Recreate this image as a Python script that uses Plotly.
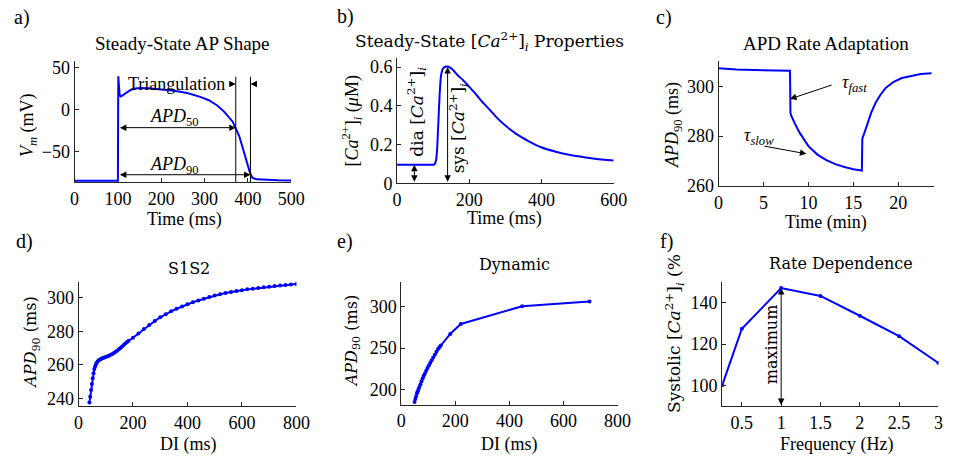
import plotly.graph_objects as go

W, H = 958, 464
BLUE = "#0000ff"
FONT = "Liberation Serif"
WIDE = "DejaVu Serif"
AX = "#262626"

# ---------------- data ----------------
ap_t = [0, 50, 100, 100.5, 101, 102, 104, 106, 110, 120, 130, 140, 150, 170, 200, 230, 260, 290,
        310, 330, 345, 355, 365, 372, 380, 388, 395, 400, 405, 410, 420, 440, 470, 500]
ap_v = [-84.3, -84.3, -84.3, 0, 40, 31, 18, 16, 17, 21, 24, 25.5, 26, 25.6, 24.5, 22.8, 20, 15.5,
        11.5, 5, -2, -8, -14, -22, -31, -45, -56, -66, -75, -80.5, -82.5, -83.2, -83.6, -83.8]

ca_t = [0, 50, 100, 104, 108, 111, 114, 118, 122, 128, 134, 139, 145, 155, 168, 183, 198, 215,
        231, 255, 277, 300, 331, 365, 399, 440, 476, 510, 548, 575, 600]
ca_c = [0.096, 0.096, 0.096, 0.098, 0.12, 0.178, 0.3, 0.46, 0.56, 0.595, 0.602, 0.603, 0.6,
        0.585, 0.558, 0.532, 0.502, 0.467, 0.431, 0.383, 0.338, 0.298, 0.254, 0.217, 0.186,
        0.163, 0.147, 0.137, 0.127, 0.122, 0.118]

ad_t = [0, 1, 2, 4, 6, 7.95, 8.0, 8.05, 8.5, 9, 10, 11, 12, 13, 14, 15, 15.95, 16.0, 16.3, 17,
        17.5, 18, 18.6, 19.5, 20.4, 21.5, 22.5, 23.7]
ad_apd = [307.2, 306.9, 306.7, 306.5, 306.3, 306.2, 289.5, 288.5, 285.0, 281.5, 276, 272.6,
          270.4, 268.8, 267.6, 266.7, 266.2, 279, 282, 289.5, 293.5, 296.5, 299.3, 301.8, 303.3,
          304.3, 304.9, 305.2]

s1s2_di = [40, 43, 46, 49, 52, 55, 58, 61, 64, 67, 70, 74, 78, 82, 86, 90, 95, 100, 106, 112,
           118, 124, 130, 136, 142, 148, 154, 160, 166, 172, 178, 184, 200, 220, 240, 260, 280,
           300, 320, 340, 360, 380, 400, 420, 440, 460, 480, 500, 520, 540, 560, 580, 600, 620,
           640, 660, 680, 700, 720, 740, 760, 780, 800]
s1s2_apd = [237.5, 241, 245, 248.5, 252, 255, 257.5, 259, 260.3, 261.2, 262, 262.7, 263.1,
            263.5, 263.8, 264.1, 264.4, 264.7, 265.1, 265.5, 266, 266.5, 267.1, 267.8, 268.5,
            269.3, 270.1, 271, 271.9, 272.8, 273.6, 274.4, 276.2, 278.8, 281.4, 283.8, 286.2,
            288.4, 290.3, 292, 293.5, 294.9, 296.2, 297.4, 298.5, 299.5, 300.5, 301.4, 302.2,
            302.9, 303.6, 304.1, 304.6, 305.1, 305.5, 305.9, 306.3, 306.7, 307.1, 307.4, 307.7,
            308, 308.3]

dyn_di = [49, 52, 55, 58, 61, 64, 67, 71, 75, 79, 83, 87, 92, 97, 102, 107, 112, 118, 124, 130,
          136, 141, 146, 181, 220, 447, 696]
dyn_apd = [185, 188.5, 192, 195.5, 198, 200.5, 203, 206.5, 210, 213.5, 216.5, 219, 222.5, 226,
           229, 232, 235, 238.5, 242, 245.5, 249, 251, 253, 267, 279, 300.3, 306]

freq = [0.25, 0.5, 1, 1.5, 2, 2.5, 3]
sys_ca = [100, 127.4, 147.1, 143.3, 133.7, 123.8, 110.8]

# ---------------- figure ----------------
fig = go.Figure()

panels = [
    dict(px=(71, 292), py=(60, 184.3), xr=[0, 500], yr=[-85.8, 57.7],
         xt=[0, 100, 200, 300, 400, 500], yt=[-50, 0, 50]),
    dict(px=(400, 621), py=(57, 185.5), xr=[0, 600], yr=[0, 0.645],
         xt=[0, 200, 400, 600], yt=[0, 0.2, 0.4, 0.6]),
    dict(px=(728, 948), py=(60, 188.3), xr=[0, 24], yr=[260, 310],
         xt=[0, 5, 10, 15, 20], yt=[260, 280, 300]),
    dict(px=(75, 297.3), py=(286.7, 415), xr=[0, 800], yr=[235.2, 309.7],
         xt=[0, 200, 400, 600, 800], yt=[240, 260, 280, 300]),
    dict(px=(404.3, 625), py=(286.7, 413.3), xr=[0, 800], yr=[181.7, 330],
         xt=[0, 200, 400, 600, 800], yt=[200, 250, 300]),
    dict(px=(731.7, 952.3), py=(286.7, 415), xr=[0.25, 3.0], yr=[89.8, 150.2],
         xt=[0.5, 1, 1.5, 2, 2.5, 3], yt=[100, 120, 140]),
]

def fmt(v):
    return ("%g" % v).replace("-", "\u2212")

layout = dict(width=W, height=H, autosize=False, margin=dict(l=0, r=0, t=0, b=0),
              paper_bgcolor="white", plot_bgcolor="white", showlegend=False,
              font=dict(family=FONT, size=18, color="black"))
for i, p in enumerate(panels, start=1):
    sx = "" if i == 1 else str(i)
    common = dict(showline=True, linecolor=AX, linewidth=1, ticks="inside", ticklen=4,
                  tickcolor=AX, showgrid=False, zeroline=False, mirror=False,
                  tickfont=dict(family=FONT, size=18, color="black"), fixedrange=True)
    layout["xaxis" + sx] = dict(domain=[p["px"][0] / W, p["px"][1] / W], range=p["xr"],
                                tickvals=p["xt"], ticktext=[fmt(v) for v in p["xt"]],
                                anchor="y" + sx, **common)
    layout["yaxis" + sx] = dict(domain=[1 - p["py"][1] / H, 1 - p["py"][0] / H], range=p["yr"],
                                tickvals=p["yt"], ticktext=[fmt(v) for v in p["yt"]],
                                anchor="x" + sx, **common)
fig.update_layout(**layout)

line = dict(color=BLUE, width=2)
fig.add_trace(go.Scatter(x=ap_t, y=ap_v, mode="lines", line=line, xaxis="x", yaxis="y"))
fig.add_trace(go.Scatter(x=ca_t, y=ca_c, mode="lines",
                         line=dict(color=BLUE, width=2, shape="spline", smoothing=0.6),
                         xaxis="x2", yaxis="y2"))
fig.add_trace(go.Scatter(x=ad_t, y=ad_apd, mode="lines", line=line, xaxis="x3", yaxis="y3"))
fig.add_trace(go.Scatter(x=s1s2_di, y=s1s2_apd, mode="lines+markers", line=dict(color=BLUE, width=2),
                         marker=dict(color=BLUE, size=4), xaxis="x4", yaxis="y4"))
fig.add_trace(go.Scatter(x=dyn_di, y=dyn_apd, mode="lines+markers", line=dict(color=BLUE, width=2),
                         marker=dict(color=BLUE, size=4), xaxis="x5", yaxis="y5"))
fig.add_trace(go.Scatter(x=freq, y=sys_ca, mode="lines+markers", line=dict(color=BLUE, width=2),
                         marker=dict(color=BLUE, size=4), xaxis="x6", yaxis="y6"))

ann = []

def ptext(x, y, text, size=18, angle=0, family=FONT, xanchor="center", yanchor="middle"):
    ann.append(dict(x=x / W, y=1 - y / H, xref="paper", yref="paper", text=text, showarrow=False,
                    font=dict(family=family, size=size, color="black"), textangle=angle,
                    xanchor=xanchor, yanchor=yanchor))

def dtext(i, x, y, text, size=18, angle=0, family=FONT, xanchor="center", yanchor="middle"):
    sx = "" if i == 1 else str(i)
    ann.append(dict(x=x, y=y, xref="x" + sx, yref="y" + sx, text=text, showarrow=False,
                    font=dict(family=family, size=size, color="black"), textangle=angle,
                    xanchor=xanchor, yanchor=yanchor))

def arrow(i, x0, y0, x1, y1, double=False):
    sx = "" if i == 1 else str(i)
    d = dict(x=x1, y=y1, ax=x0, ay=y0, xref="x" + sx, yref="y" + sx, axref="x" + sx,
             ayref="y" + sx, text="", showarrow=True, arrowhead=2, arrowsize=1.3,
             arrowwidth=1, arrowcolor="black", standoff=0, startstandoff=0)
    if double:
        d.update(arrowside="end+start", startarrowhead=2, startarrowsize=1.3)
    ann.append(d)

CA = "[<i>Ca</i><sup>2+</sup>]<sub><i>i</i></sub>"
APD90 = "<i>APD</i><sub>90</sub>"

for lab, x, y in [("a)", 17, 15), ("b)", 347, 14), ("c)", 672, 15),
                  ("d)", 20, 245), ("e)", 347, 245), ("f)", 675, 245)]:
    ptext(x, y, lab, size=20)

ptext(181, 42, "Steady-State AP Shape", size=19)
ptext(494, 40, "Steady-State " + CA + " Properties", size=17, family=WIDE)
ptext(838, 42, "APD Rate Adaptation", size=19)
ptext(188, 273, "S1S2", size=16, family=WIDE)
ptext(520, 269, "Dynamic", size=16, family=WIDE)
ptext(853, 268, "Rate Dependence", size=16, family=WIDE)

ptext(183, 223, "Time (ms)")
ptext(510, 222, "Time (ms)")
ptext(838, 226, "Time (min)")
ptext(187, 454, "DI (ms)")
ptext(515, 454, "DI (ms)")
ptext(848, 454, "Frequency (Hz)")
ptext(24, 126, "<i>V</i><sub><i>m</i></sub> (mV)", angle=-90)
ptext(354, 121, CA + " (<i>μ</i>M)", angle=-90)
ptext(682, 125, APD90 + " (ms)", angle=-90)
ptext(27, 349, APD90 + " (ms)", size=16, family=WIDE, angle=-90)
ptext(354, 348, APD90 + " (ms)", size=16, family=WIDE, angle=-90)
ptext(683, 340, "Systolic " + CA + " (%", size=17, family=WIDE, angle=-90)

fig.add_shape(type="line", xref="x", yref="y", x0=372, x1=372, y0=-85.8, y1=39.3,
              line=dict(color="black", width=1))
fig.add_shape(type="line", xref="x", yref="y", x0=406, x1=406, y0=-85.8, y1=39.3,
              line=dict(color="black", width=1))
arrow(1, 355, 30.8, 372, 30.8)
arrow(1, 423, 30.8, 406, 30.8)
arrow(1, 101, -21.1, 372, -21.1, double=True)
arrow(1, 101, -77, 406, -77, double=True)
dtext(1, 236, 30.8, "Triangulation")
dtext(1, 231, -9.2, "<i>APD</i><sub>50</sub>")
dtext(1, 231, -65.5, APD90)

arrow(2, 48, 0, 48, 0.096, double=True)
arrow(2, 140, 0, 140, 0.6, double=True)
dtext(2, 54, 0.125, "dia " + CA, size=17, family=WIDE, angle=-90, yanchor="bottom")
dtext(2, 171, 0.04, "sys " + CA, size=17, family=WIDE, angle=-90, yanchor="bottom")

arrow(3, 12.76, 300.7, 7.95, 294.9)
dtext(3, 13.5, 301.3, "<i>τ</i><sub><i>fast</i></sub>", xanchor="left")
arrow(3, 4.95, 276.1, 9.78, 272.9)
dtext(3, 4.5, 280, "<i>τ</i><sub><i>slow</i></sub>")

arrow(6, 1, 89.8, 1, 147.1, double=True)
dtext(6, 0.873, 120, "maximum", size=16, family=WIDE, angle=-90)

fig.update_layout(annotations=ann)
fig.write_html("out.html", config={"displayModeBar": False})
